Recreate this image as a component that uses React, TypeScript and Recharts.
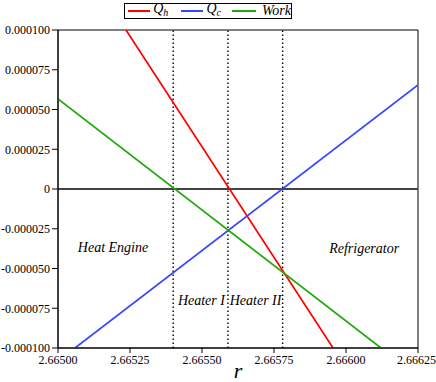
import React from 'react';
import {
  LineChart, Line, XAxis, YAxis, ReferenceLine, ReferenceArea, ReferenceDot, Label,
} from 'recharts';

// r values and series values
const qhR = [2.665236, 2.665955];
const qhV = [0.0001, -0.0001];
const qcR = [2.665059, 2.66625];
const qcV = [-0.0001, 0.0000654];
const workR = [2.665, 2.6661215];
const workV = [0.0000566, -0.0001];

const xTicks = [2.665, 2.66525, 2.6655, 2.66575, 2.666, 2.66625];
const yTicks = [-0.0001, -0.000075, -0.00005, -0.000025, 0, 0.000025, 0.00005, 0.000075, 0.0001];
const dividers = [2.6654, 2.66559, 2.66578];

const regionNames = ['Heat Engine', 'Heater I', 'Heater II', 'Refrigerator'];
const regionR = [2.665191, 2.665498, 2.665686, 2.666063];
const regionV = [-0.0000365, -0.0000704, -0.0000704, -0.0000377];

const mk = (rs: number[], vs: number[]) => rs.map((r, i) => ({ r, v: vs[i] }));
const qhData = mk(qhR, qhV);
const qcData = mk(qcR, qcV);
const workData = mk(workR, workV);

const FONT = "'Liberation Serif', 'Times New Roman', Times, serif";
const RED = '#ff0000';
const BLUE = '#3447ff';
const GREEN = '#20a80c';

const LegendBox = () => (
  <div style={{
    position: 'absolute', left: 124, top: 3,
    display: 'flex', alignItems: 'center', border: '1px solid #000', boxSizing: 'border-box',
    height: 16, width: 168, fontFamily: FONT, fontStyle: 'italic', fontSize: 14, paddingLeft: 3, background: '#fff',
  }}>
    <span style={{ display: 'inline-block', width: 25, height: 2, background: RED }} />
    <span style={{ marginLeft: 3, marginRight: 13, lineHeight: '14px' }}>Q<sub style={{ fontSize: 10, verticalAlign: -3 }}>h</sub></span>
    <span style={{ display: 'inline-block', width: 25, height: 2, background: BLUE }} />
    <span style={{ marginLeft: 3, marginRight: 11, lineHeight: '14px' }}>Q<sub style={{ fontSize: 10, verticalAlign: -3 }}>c</sub></span>
    <span style={{ display: 'inline-block', width: 27, height: 2, background: GREEN }} />
    <span style={{ marginLeft: 6, lineHeight: '14px' }}>Work</span>
  </div>
);

const tickStyle = { fill: '#000', fontFamily: FONT, fontSize: 12, style: { fontFamily: FONT } };

export default function App() {
  return (
    <div style={{ position: 'absolute', left: 0, top: 0, width: 436, height: 382, background: '#fff', fontFamily: FONT }}>
      <LineChart width={436} height={382} margin={{ top: 30, right: 18, left: 0, bottom: 0 }} style={{ fontFamily: FONT }}>
        <XAxis
          dataKey="r" type="number" domain={[2.665, 2.66625]} ticks={xTicks} allowDataOverflow
          tickFormatter={(v: number) => v.toFixed(5)} height={34}
          axisLine={{ stroke: '#000' }} tickLine={{ stroke: '#000' }} tickSize={5}
          tick={tickStyle}
        >
          <Label
            content={(p: any) => (
              <text x={p.viewBox.x + p.viewBox.width / 2} y={p.viewBox.y + p.viewBox.height - 4}
                textAnchor="middle" fontFamily={FONT} fontStyle="italic" fontSize={22} fill="#000">r</text>
            )}
          />
        </XAxis>
        <YAxis
          type="number" domain={[-0.0001, 0.0001]} ticks={yTicks} allowDataOverflow width={58}
          tickFormatter={(v: number) => (v === 0 ? '0' : v.toFixed(6))}
          axisLine={{ stroke: '#000' }} tickLine={{ stroke: '#000' }} tickSize={6}
          tick={tickStyle}
        />
        <ReferenceArea x1={2.665} x2={2.66625} y1={-0.0001} y2={0.0001} fill="none" stroke="#000" strokeWidth={1} />
        <ReferenceLine y={0} stroke="#444" strokeWidth={2} />
        {dividers.map((d) => (
          <ReferenceLine key={d} x={d} stroke="#000" strokeWidth={1.4} strokeDasharray="1.5 2.5" />
        ))}
        <Line data={qhData} dataKey="v" stroke={RED} strokeWidth={1.7} dot={false} isAnimationActive={false} />
        <Line data={qcData} dataKey="v" stroke={BLUE} strokeWidth={1.7} dot={false} isAnimationActive={false} />
        <Line data={workData} dataKey="v" stroke={GREEN} strokeWidth={1.7} dot={false} isAnimationActive={false} />
        {regionNames.map((name, i) => (
          <ReferenceDot
            key={name} x={regionR[i]} y={regionV[i]} r={0}
            shape={(p: any) => (
              <text x={p.cx} y={p.cy} textAnchor="middle" dominantBaseline="central"
                fontFamily={FONT} fontStyle="italic" fontSize={14} fill="#000">{name}</text>
            )}
          />
        ))}
      </LineChart>
      <LegendBox />
    </div>
  );
}
